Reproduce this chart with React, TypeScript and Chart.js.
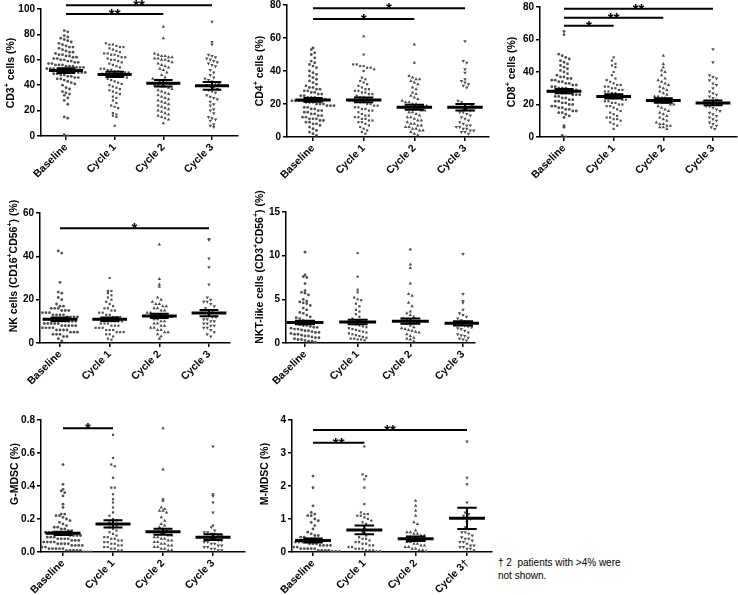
import React, { useEffect, useRef } from 'react';
import { Chart, registerables } from 'chart.js';
Chart.register(...registerables);

// ---------------- DATA ----------------
const CATS = ['Baseline', 'Cycle 1', 'Cycle 2', 'Cycle 3'];
const CATS_M = ['Baseline', 'Cycle 1', 'Cycle 2', 'Cycle 3†'];

// CD3+
const cd3Base = [83,82,79,78,77,76,75,74,73,72,71,70,70,69,68,67,66,66,65,64,64,63,63,62,62,61,61,60,60,59,59,58,58,57,57,56,56,56,55,55,55,54,54,54,53,53,53,52,52,52,51,51,51,50,50,50,49,49,48,48,47,47,46,46,45,45,44,43,42,41,40,38,37,35,34,33,32,30,28,25,15,14,1,0];
const cd3C1 = [73,72,72,71,70,70,69,68,67,66,65,65,64,64,63,62,62,61,60,60,59,58,57,56,55,54,53,53,52,52,51,51,50,50,50,49,49,49,48,48,47,47,46,45,44,43,42,41,40,39,38,37,36,35,34,33,31,30,28,26,24,23,22,18,17,16,15,8];
const cd3C2 = [86,77,65,64,63,63,62,62,61,61,60,60,59,58,57,56,55,54,53,52,50,48,46,45,44,43,42,42,41,41,40,40,39,39,38,37,36,35,34,33,32,31,30,29,28,27,26,25,24,23,22,21,20,19,18,17,16,15,14,13,10];
const cd3C3 = [90,74,72,64,63,62,61,60,59,58,57,56,55,52,50,48,46,45,44,43,42,41,40,39,38,37,36,35,34,32,31,30,29,27,25,24,21,20,18,15,14,13,12,9,8,7];
const cd3Mean = [51.5, 48.5, 41.5, 39.5];
const cd3Sem = [1.8, 2.0, 2.6, 3.0];
const cd3Ticks = [0, 20, 40, 60, 80, 100];
const cd3Sig = [{ from: 0, to: 2, y: 96, label: '**' }, { from: 0, to: 3, y: 103, label: '**' }];

// CD4+
const cd4Base = [54,53,51,50,48,46,45,44,43,42,40,39,38,37,36,35,34,33,32,31,30,30,29,29,28,28,27,27,26,26,25,25,24,24,24,23,23,23,22,22,22,22,21,21,21,20,20,20,19,19,19,18,18,17,17,16,16,15,15,14,14,13,13,12,12,11,11,11,10,10,9,9,8,8,7,6,5,4,3,2,1];
const cd4C1 = [61,50,44,44,43,43,42,42,41,40,36,35,34,33,32,31,30,29,29,28,28,27,27,26,26,25,24,24,23,23,22,22,22,21,21,20,20,19,19,18,18,17,17,16,16,15,14,13,13,12,12,11,11,10,10,9,9,8,7,6,5,4,3,2];
const cd4C2 = [56,45,37,36,35,35,34,33,32,30,29,27,26,25,24,23,22,21,21,20,20,19,19,19,18,18,18,17,17,16,16,15,15,14,13,12,12,11,10,10,9,8,8,7,7,6,6,5,5,4,4,3,2,1];
const cd4C3 = [58,46,45,41,39,35,34,33,32,31,30,22,21,20,20,19,18,18,17,17,16,16,15,15,14,13,12,11,10,9,8,7,7,6,6,5,5,4,4,3,3,2];
const cd4Mean = [22.5, 22.5, 18, 18];
const cd4Sem = [1.2, 1.5, 1.5, 2.0];
const cd4Ticks = [0, 20, 40, 60, 80];
const cd4Sig = [{ from: 0, to: 2, y: 71.5, label: '*' }, { from: 0, to: 3, y: 78, label: '*' }];

// CD8+
const cd8Base = [65,63,51,50,49,48,47,46,45,44,43,42,41,40,39,38,37,37,36,36,35,35,34,34,33,33,32,32,31,31,30,30,30,29,29,29,28,28,28,28,27,27,27,26,26,26,25,25,24,24,23,23,22,22,21,21,20,20,19,19,18,18,17,17,16,16,15,15,14,13,12,7,6,1,0];
const cd8C1 = [49,47,45,44,43,40,38,36,35,34,33,32,32,31,31,30,30,29,29,28,28,27,27,26,26,25,25,25,24,24,24,23,23,22,22,21,21,20,20,19,19,18,17,16,15,14,13,12,12,11,11,10,9,8,7,5];
const cd8C2 = [50,45,43,41,40,38,36,35,34,33,32,31,30,29,28,27,26,25,25,24,24,23,23,22,22,22,21,21,20,20,19,18,17,16,15,14,13,12,11,10,9,8,8,7,7,6,6,5];
const cd8C3 = [54,46,38,37,36,35,33,32,30,28,27,26,25,24,23,22,22,21,21,20,20,19,19,18,17,16,15,14,13,12,11,10,9,8,7,6,5];
const cd8Mean = [28.2, 25, 22.5, 21];
const cd8Sem = [1.3, 1.3, 1.4, 1.5];
const cd8Ticks = [0, 20, 40, 60, 80];
const cd8Sig = [{ from: 0, to: 1, y: 68.5, label: '*' }, { from: 0, to: 2, y: 73.4, label: '**' }, { from: 0, to: 3, y: 79, label: '**' }];

// NK
const nkBase = [42.5,41.5,28,23.5,23,21,20,18,17,17,16,16,16,15,15,15,14,14,14,13,13,13,13,12,12,12,12,11,11,11,11,11,10,10,10,10,10,9,9,9,9,9,8,8,8,8,8,7,7,7,7,6,6,6,6,5,5,5,4,4,4,3,3,2,1];
const nkC1 = [30,24,24,23,22,21,20,19,18,17,16,16,15,15,14,14,13,13,12,12,12,11,11,11,11,10,10,10,10,9,9,9,8,8,8,7,7,7,6,6,6,5,5,5,4,4,3,2,1.5];
const nkC2 = [45.5,29.5,27,26,21,20,19,18,18,17,17,16,16,15,15,14,14,13,13,13,12,12,12,11,11,10,10,9,9,8,8,7,7,6,6,5,5,4,3,2];
const nkC3 = [48,47.5,39,35,27,21,20,19,19,18,17,16,15,15,14,14,13,12,12,11,11,10,10,9,9,8,8,7,7,6,5,4,3];
const nkMean = [11, 11, 12.5, 13.8];
const nkSem = [0.8, 0.8, 1.0, 1.4];
const nkTicks = [0, 20, 40, 60];
const nkSig = [{ from: 0, to: 3, y: 53, label: '*' }];

// NKT-like
const nktBase = [10.4,7.8,7.6,7.5,6.8,6.0,5.8,5.7,5.5,5.0,4.8,4.7,4.6,4.5,4.3,4.0,3.8,3.5,3.4,3.2,3.0,2.9,2.8,2.6,2.5,2.4,2.4,2.3,2.2,2.1,2.0,2.0,1.9,1.8,1.8,1.7,1.6,1.6,1.5,1.4,1.4,1.3,1.2,1.2,1.1,1.0,1.0,0.9,0.8,0.8,0.7,0.6,0.6,0.5,0.4,0.4,0.3,0.2,0.2,0.1];
const nktC1 = [10.3,7.6,6.1,5.8,5.2,5.0,4.9,4.5,4.2,3.8,3.6,3.3,3.0,2.8,2.6,2.5,2.4,2.3,2.2,2.1,2.0,1.9,1.8,1.7,1.6,1.5,1.4,1.3,1.2,1.1,1.0,0.9,0.8,0.7,0.6,0.5,0.5,0.4,0.4,0.3];
const nktC2 = [10.7,9.0,8.6,6.8,5.6,5.4,4.6,4.2,3.6,3.4,3.2,3.0,2.8,2.7,2.6,2.5,2.4,2.2,2.0,1.8,1.7,1.6,1.5,1.4,1.3,1.2,1.0,0.8,0.6,0.5,0.4,0.2];
const nktC3 = [10.2,5.6,4.8,4.6,3.8,3.4,3.2,3.0,2.8,2.6,2.5,2.4,2.3,2.2,2.1,2.0,1.9,1.8,1.7,1.6,1.4,1.2,1.0,0.9,0.8,0.6,0.5,0.4,0.3];
const nktMean = [2.35, 2.4, 2.5, 2.25];
const nktSem = [0.2, 0.25, 0.3, 0.25];
const nktTicks = [0, 5, 10, 15];

// G-MDSC
const gBase = [0.53,0.41,0.38,0.37,0.36,0.34,0.29,0.27,0.23,0.23,0.22,0.22,0.21,0.2,0.19,0.18,0.17,0.16,0.15,0.15,0.14,0.14,0.13,0.13,0.12,0.12,0.12,0.11,0.11,0.11,0.11,0.10,0.10,0.10,0.10,0.09,0.09,0.09,0.08,0.08,0.08,0.08,0.07,0.07,0.07,0.06,0.06,0.06,0.06,0.05,0.05,0.05,0.05,0.04,0.04,0.04,0.04,0.03,0.03,0.03,0.03,0.02,0.02,0.02,0.02,0.02,0.01,0.01,0.01,0.01,0.01,0.0,0.0,0.0];
const gC1 = [0.71,0.57,0.53,0.52,0.45,0.39,0.39,0.35,0.32,0.30,0.27,0.24,0.22,0.2,0.19,0.18,0.17,0.16,0.15,0.14,0.13,0.12,0.11,0.10,0.09,0.09,0.08,0.08,0.07,0.07,0.06,0.06,0.05,0.05,0.04,0.04,0.03,0.03,0.02,0.02,0.01,0.01];
const gC2 = [0.75,0.50,0.32,0.31,0.27,0.26,0.25,0.25,0.24,0.21,0.19,0.17,0.16,0.15,0.14,0.13,0.12,0.12,0.11,0.11,0.10,0.10,0.09,0.09,0.08,0.08,0.07,0.07,0.06,0.06,0.05,0.05,0.04,0.04,0.03,0.03,0.02,0.02,0.01,0.01];
const gC3 = [0.64,0.35,0.34,0.30,0.24,0.16,0.15,0.13,0.12,0.12,0.11,0.11,0.10,0.10,0.09,0.09,0.08,0.08,0.07,0.07,0.06,0.06,0.05,0.05,0.04,0.04,0.03,0.03,0.02,0.02,0.01,0.01];
const gMean = [0.113, 0.17, 0.123, 0.09];
const gSem = [0.01, 0.022, 0.018, 0.018];
const gTicks = [0, 0.2, 0.4, 0.6, 0.8];
const gSig = [{ from: 0, to: 1, y: 0.75, label: '*' }];

// M-MDSC
const mBase = [2.3,1.95,1.4,1.2,1.15,1.1,1.1,1.0,0.95,0.9,0.8,0.7,0.6,0.55,0.5,0.5,0.45,0.45,0.4,0.4,0.4,0.35,0.35,0.35,0.3,0.3,0.3,0.3,0.25,0.25,0.25,0.2,0.2,0.2,0.2,0.15,0.15,0.15,0.15,0.1,0.1,0.1,0.1,0.1,0.05,0.05,0.05,0.05,0.02,0.02,0.02];
const mC1 = [3.2,2.35,2.3,2.2,1.95,1.45,1.2,1.15,1.15,1.1,1.1,1.05,1.0,0.95,0.9,0.85,0.7,0.6,0.5,0.45,0.4,0.4,0.35,0.3,0.3,0.25,0.25,0.2,0.2,0.15,0.15,0.1,0.1,0.1,0.05,0.05,0.05,0.02,0.02];
const mC2 = [1.55,1.4,1.25,1.1,0.9,0.85,0.65,0.6,0.6,0.55,0.55,0.5,0.5,0.45,0.45,0.4,0.4,0.35,0.35,0.3,0.3,0.25,0.25,0.2,0.2,0.15,0.15,0.1,0.1,0.05,0.05,0.02];
const mC3 = [3.35,2.25,2.05,1.5,1.3,1.2,1.15,1.1,1.05,1.0,0.9,0.75,0.7,0.6,0.6,0.55,0.5,0.45,0.4,0.4,0.35,0.3,0.3,0.25,0.2,0.2,0.15,0.15,0.1,0.1,0.05];
const mMean = [0.35, 0.67, 0.4, 1.02];
const mSem = [0.06, 0.13, 0.07, 0.32];
const mTicks = [0, 1, 2, 3, 4];
const mSig = [{ from: 0, to: 1, y: 3.31, label: '**' }, { from: 0, to: 3, y: 3.7, label: '**' }];

// ---------------- LAYOUT / STYLE ----------------
const FONT = '"Liberation Sans", Arial, Helvetica, sans-serif';
const DOT = '#4f4f4f';
type Seg = { t: string; sup?: boolean };
type Sig = { from: number; to: number; y: number; label: string };
type Cfg = {
  groups: number[][]; means: number[]; sems: number[]; ticks: number[]; dec: number;
  sig: Sig[]; title: Seg[]; labels: string[];
  axisX: number; topPx: number; bottomPx: number; rightPx: number; c0: number; c3: number;
  titleX: number; titleY: number;
};

const panels: Cfg[] = [
  { groups: [cd3Base, cd3C1, cd3C2, cd3C3], means: cd3Mean, sems: cd3Sem, ticks: cd3Ticks, dec: 0, sig: cd3Sig,
    title: [{ t: 'CD3' }, { t: '+', sup: true }, { t: ' cells (%)' }], labels: CATS,
    axisX: 41, topPx: 9, bottomPx: 136, rightPx: 238, c0: 66, c3: 212, titleX: 11, titleY: 73 },
  { groups: [cd4Base, cd4C1, cd4C2, cd4C3], means: cd4Mean, sems: cd4Sem, ticks: cd4Ticks, dec: 0, sig: cd4Sig,
    title: [{ t: 'CD4' }, { t: '+', sup: true }, { t: ' cells (%)' }], labels: CATS,
    axisX: 287, topPx: 5, bottomPx: 137, rightPx: 489, c0: 313, c3: 465, titleX: 260, titleY: 71 },
  { groups: [cd8Base, cd8C1, cd8C2, cd8C3], means: cd8Mean, sems: cd8Sem, ticks: cd8Ticks, dec: 0, sig: cd8Sig,
    title: [{ t: 'CD8' }, { t: '+', sup: true }, { t: ' cells (%)' }], labels: CATS,
    axisX: 540, topPx: 7, bottomPx: 137, rightPx: 737, c0: 564, c3: 713, titleX: 512, titleY: 72 },
  { groups: [nkBase, nkC1, nkC2, nkC3], means: nkMean, sems: nkSem, ticks: nkTicks, dec: 0, sig: nkSig,
    title: [{ t: 'NK cells (CD16' }, { t: '+', sup: true }, { t: 'CD56' }, { t: '+', sup: true }, { t: ') (%)' }], labels: CATS,
    axisX: 40, topPx: 213, bottomPx: 343, rightPx: 230, c0: 60, c3: 209, titleX: 14, titleY: 266 },
  { groups: [nktBase, nktC1, nktC2, nktC3], means: nktMean, sems: nktSem, ticks: nktTicks, dec: 0, sig: [],
    title: [{ t: 'NKT-like cells (CD3' }, { t: '+', sup: true }, { t: 'CD56' }, { t: '+', sup: true }, { t: ') (%)' }], labels: CATS,
    axisX: 286, topPx: 212, bottomPx: 343, rightPx: 475, c0: 305, c3: 463, titleX: 260, titleY: 267 },
  { groups: [gBase, gC1, gC2, gC3], means: gMean, sems: gSem, ticks: gTicks, dec: 1, sig: gSig,
    title: [{ t: 'G-MDSC (%)' }], labels: CATS,
    axisX: 41, topPx: 420, bottomPx: 552, rightPx: 245, c0: 63, c3: 213, titleX: 15, titleY: 474 },
  { groups: [mBase, mC1, mC2, mC3], means: mMean, sems: mSem, ticks: mTicks, dec: 0, sig: mSig,
    title: [{ t: 'M-MDSC (%)' }], labels: CATS_M,
    axisX: 292, topPx: 420, bottomPx: 552, rightPx: 492, c0: 313, c3: 467, titleX: 265, titleY: 474 },
];

const STYLES = ['circle', 'rect', 'triangle', 'triangle'];
const RADII = [1.4, 1.55, 2.0, 2.0];
const ROT = [0, 0, 0, 180];

function swarm(vals: number[], pxPerY: number, pxPerCat: number) {
  const rowPx = 5.2;
  const dotPx = 3.5;
  const bins = new Map<number, number[]>();
  vals.forEach((v) => {
    const b = Math.floor((v * pxPerY) / rowPx);
    if (!bins.has(b)) bins.set(b, []);
    bins.get(b)!.push(v);
  });
  const out: { dx: number; y: number }[] = [];
  bins.forEach((arr) => {
    const n = arr.length;
    arr.forEach((v, k) => out.push({ dx: ((k - (n - 1) / 2) * dotPx) / pxPerCat, y: v }));
  });
  return out;
}

function Panel({ cfg }: { cfg: Cfg }) {
  const ref = useRef<HTMLCanvasElement>(null);
  const cLeft = cfg.axisX - 41;
  const cTop = cfg.topPx - 30;
  const cW = cfg.rightPx + 4 - cLeft;
  const cH = cfg.bottomPx - cTop + 54;
  useEffect(() => {
    const pxPerCat = (cfg.c3 - cfg.c0) / 3;
    const xMin = (cfg.axisX - cfg.c0) / pxPerCat;
    const xMax = 3 + (cfg.rightPx - cfg.c3) / pxPerCat;
    const ymax = cfg.ticks[cfg.ticks.length - 1];
    const pxPerY = (cfg.bottomPx - cfg.topPx) / ymax;
    const datasets = cfg.groups.map((vals, i) => ({
      data: swarm(vals, pxPerY, pxPerCat).map((p) => ({ x: i + p.dx, y: p.y })),
      pointStyle: STYLES[i] as any,
      pointRotation: ROT[i],
      pointRadius: RADII[i],
      pointBackgroundColor: DOT,
      pointBorderColor: DOT,
      pointBorderWidth: 0,
      showLine: false,
    }));
    const overlay = {
      id: 'overlay',
      afterDatasetsDraw(chart: any) {
        const { ctx, scales } = chart;
        const x = scales.x, y = scales.y;
        const cat = x.getPixelForValue(1) - x.getPixelForValue(0);
        ctx.save();
        ctx.strokeStyle = '#000';
        ctx.lineCap = 'butt';
        cfg.means.forEach((m: number, i: number) => {
          const cx = x.getPixelForValue(i);
          const py = y.getPixelForValue(m);
          const hw = 0.35 * cat;
          ctx.lineWidth = 3;
          ctx.beginPath(); ctx.moveTo(cx - hw, py); ctx.lineTo(cx + hw, py); ctx.stroke();
          const t = y.getPixelForValue(m + cfg.sems[i]);
          const b = y.getPixelForValue(m - cfg.sems[i]);
          const cw = 0.19 * cat;
          ctx.lineWidth = 2;
          ctx.beginPath();
          ctx.moveTo(cx, t); ctx.lineTo(cx, b);
          ctx.moveTo(cx - cw, t); ctx.lineTo(cx + cw, t);
          ctx.moveTo(cx - cw, b); ctx.lineTo(cx + cw, b);
          ctx.stroke();
        });
        ctx.restore();
      },
      afterDraw(chart: any) {
        const { ctx, scales } = chart;
        const x = scales.x, y = scales.y;
        ctx.save();
        ctx.strokeStyle = '#000';
        ctx.fillStyle = '#000';
        cfg.sig.forEach((s: Sig) => {
          const x1 = x.getPixelForValue(s.from);
          const x2 = x.getPixelForValue(s.to);
          const py = y.getPixelForValue(s.y);
          ctx.lineWidth = 2;
          ctx.beginPath(); ctx.moveTo(x1, py); ctx.lineTo(x2, py); ctx.stroke();
          ctx.font = `bold 15px ${FONT}`;
          ctx.textAlign = 'center';
          ctx.textBaseline = 'alphabetic';
          ctx.fillText(s.label, (x1 + x2) / 2, py + 5);
        });
        // y title with superscripts
        const mainF = `bold 10.5px ${FONT}`;
        const supF = `bold 7px ${FONT}`;
        let total = 0;
        cfg.title.forEach((sg) => { ctx.font = sg.sup ? supF : mainF; total += ctx.measureText(sg.t).width; });
        ctx.translate(cfg.titleX - cLeft, cfg.titleY - cTop);
        ctx.rotate(-Math.PI / 2);
        ctx.textAlign = 'left';
        ctx.textBaseline = 'middle';
        let pos = -total / 2;
        cfg.title.forEach((sg) => {
          ctx.font = sg.sup ? supF : mainF;
          ctx.fillText(sg.t, pos, sg.sup ? -3.5 : 0);
          pos += ctx.measureText(sg.t).width;
        });
        ctx.restore();
      },
    };
    const gridOpt = { display: true, drawOnChartArea: false, drawTicks: true, tickLength: 4, color: '#000', lineWidth: 1.5 };
    const borderOpt = { display: true, color: '#000', width: 1.5 };
    const chart = new Chart(ref.current!, {
      type: 'scatter',
      data: { datasets: datasets as any },
      plugins: [overlay],
      options: {
        responsive: false,
        animation: false,
        devicePixelRatio: 1,
        events: [],
        layout: { padding: { left: 0, top: cfg.topPx - cTop, right: cLeft + cW - cfg.rightPx, bottom: 0 } },
        plugins: { legend: { display: false }, tooltip: { enabled: false } },
        scales: {
          x: {
            type: 'linear', min: xMin, max: xMax,
            afterBuildTicks: (s: any) => { s.ticks = [0, 1, 2, 3].map((v) => ({ value: v })); },
            afterFit: (s: any) => { s.height = cH - (cfg.bottomPx - cTop); s.paddingLeft = 0; s.paddingRight = 0; },
            ticks: {
              callback: (v: any) => cfg.labels[Math.round(Number(v))] ?? '',
              minRotation: 45, maxRotation: 45, autoSkip: false, padding: 1,
              color: '#000', font: { family: FONT, size: 10.5, weight: 'bold' },
            },
            grid: gridOpt as any, border: borderOpt as any,
          },
          y: {
            type: 'linear', min: 0, max: ymax,
            afterBuildTicks: (s: any) => { s.ticks = cfg.ticks.map((v) => ({ value: v })); },
            afterFit: (s: any) => { s.width = cfg.axisX - cLeft; },
            ticks: {
              callback: (v: any) => Number(v).toFixed(cfg.dec),
              padding: 2, color: '#000', font: { family: FONT, size: 10, weight: 'bold' },
            },
            grid: gridOpt as any, border: borderOpt as any,
          },
        },
      } as any,
    });
    return () => chart.destroy();
  }, []);
  return (
    <canvas ref={ref} width={cW} height={cH}
      style={{ position: 'absolute', left: cLeft, top: cTop, width: cW, height: cH }} />
  );
}

export default function App() {
  return (
    <div style={{ position: 'absolute', left: 0, top: 0, width: 738, height: 595, background: '#fff', overflow: 'hidden' }}>
      {panels.map((p, i) => <Panel key={i} cfg={p} />)}
      <div style={{ position: 'absolute', left: 498, top: 556, fontFamily: FONT, fontSize: 10, lineHeight: '13px', color: '#000', whiteSpace: 'nowrap' }}>
        † 2&nbsp; patients with &gt;4% were<br />not shown.
      </div>
    </div>
  );
}
